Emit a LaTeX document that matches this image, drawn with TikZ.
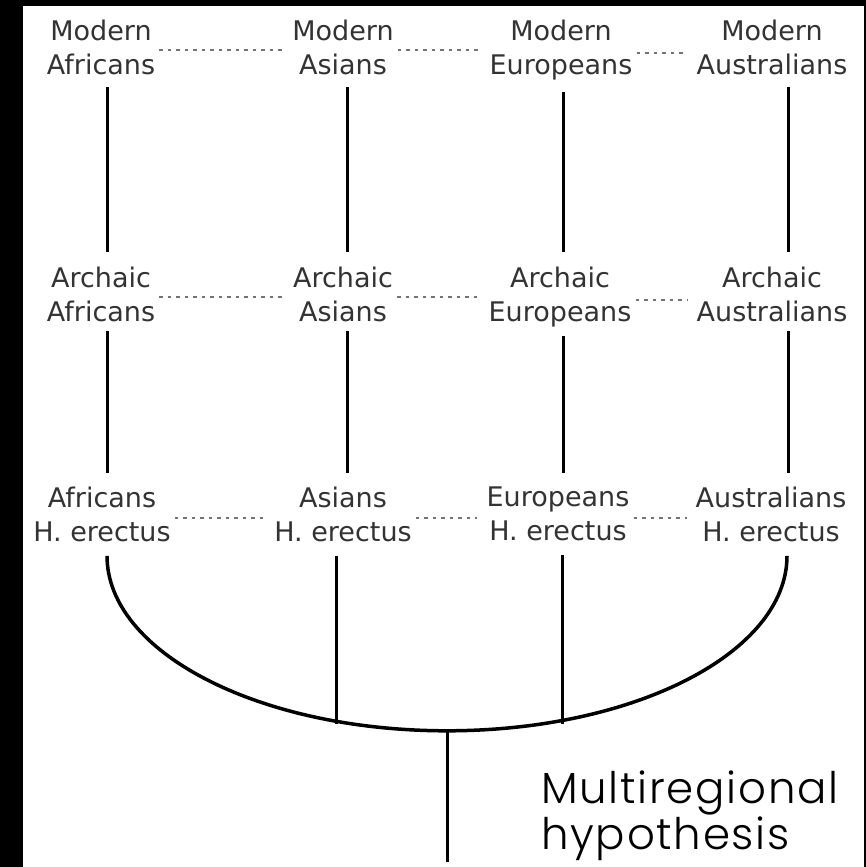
\documentclass[tikz,border=0pt]{standalone}
\usepackage{fontspec}
\setmainfont{DejaVu Sans}
\newfontfamily\notefont{Poppins Light}[LetterSpace=4]
\usetikzlibrary{calc}

\begin{document}
\begin{tikzpicture}[x=1pt, y=-1pt]
            \tikzset{taxon/.style={align=center, inner sep=0pt, anchor=north, text=black!80,
                font=\fontsize{27pt}{34pt}\selectfont}}
            \tikzset{stem/.style={line width=3pt, black}}
            \tikzset{link/.style={black!55, line width=2pt, dash pattern=on 3.5pt off 5pt,
                shorten <=4pt, shorten >=9pt}}
            \useasboundingbox (0, 0) rectangle (866, 867);
            \fill[black] (0, 0) rectangle (866, 867);
            \fill[white] (23, 6) rectangle (864, 867);
            % columns of the stems
            \coordinate (cA) at (107, 0);
            \coordinate (cB) at (347, 0);
            \coordinate (cC) at (563, 0);
            \coordinate (cD) at (788, 0);
            % modern
            \node[taxon] (mA) at (101, 19.5) {Modern\\Africans};
            \node[taxon] (mB) at (343, 19.5) {Modern\\Asians};
            \node[taxon] (mC) at (561, 19.5) {Modern\\Europeans};
            \node[taxon] (mD) at (772, 19.5) {Modern\\Australians};
            % archaic
            \node[taxon] (aA) at (101, 266.5) {Archaic\\Africans};
            \node[taxon] (aB) at (343, 266.5) {Archaic\\Asians};
            \node[taxon] (aC) at (560, 266.5) {Archaic\\Europeans};
            \node[taxon] (aD) at (772, 266.5) {Archaic\\Australians};
            % erectus
            \node[taxon] (eA) at (102, 486.5) {Africans\\H. erectus};
            \node[taxon] (eB) at (343, 486.5) {Asians\\H. erectus};
            \node[taxon] (eC) at (558, 486.5) {Europeans\\H. erectus};
            \node[taxon] (eD) at (771, 486.5) {Australians\\H. erectus};
            % gene flow
            \foreach \r/\y in {m/-3pt, a/-3pt, e/-4pt} {
                \draw[link] ([yshift=\y]\r A.east) -- ([yshift=\y]\r A.east -| \r B.west);
                \draw[link] ([yshift=\y]\r B.east) -- ([yshift=\y]\r B.east -| \r C.west);
                \draw[link] ([yshift=\y]\r C.east) -- ([yshift=\y]\r C.east -| \r D.west);
            }
            % stems
            \foreach \c in {A, B, C, D} {
                \draw[stem] ([yshift=-12pt]m\c.south -| c\c) -- ([yshift=15pt]a\c.north -| c\c);
                \draw[stem] ([yshift=-9pt]a\c.south -| c\c) -- ([yshift=14pt]e\c.north -| c\c);
            }
            % common root
            \coordinate (jB) at (336, 724);
            \coordinate (jC) at (562, 724);
            \coordinate (base) at (447, 730);
            \coordinate (root) at (447, 862);
            \draw[stem] ([yshift=-14pt]eB.south -| jB) -- (jB);
            \draw[stem] ([yshift=-14pt]eC.south -| jC) -- (jC);
            \draw[stem, line width=3.5pt] ([yshift=-14pt]eA.south -| cA)
                arc[start angle=180, end angle=0, x radius=340, y radius=175];
            \draw[stem] (base) -- (root);
            \node[anchor=north west, inner sep=0pt, align=left, text=black,
                font=\notefont\fontsize{43.5pt}{46pt}\selectfont] (label) at (541, 771)
                {Multiregional\\hypothesis};
        \end{tikzpicture}
\end{document}
